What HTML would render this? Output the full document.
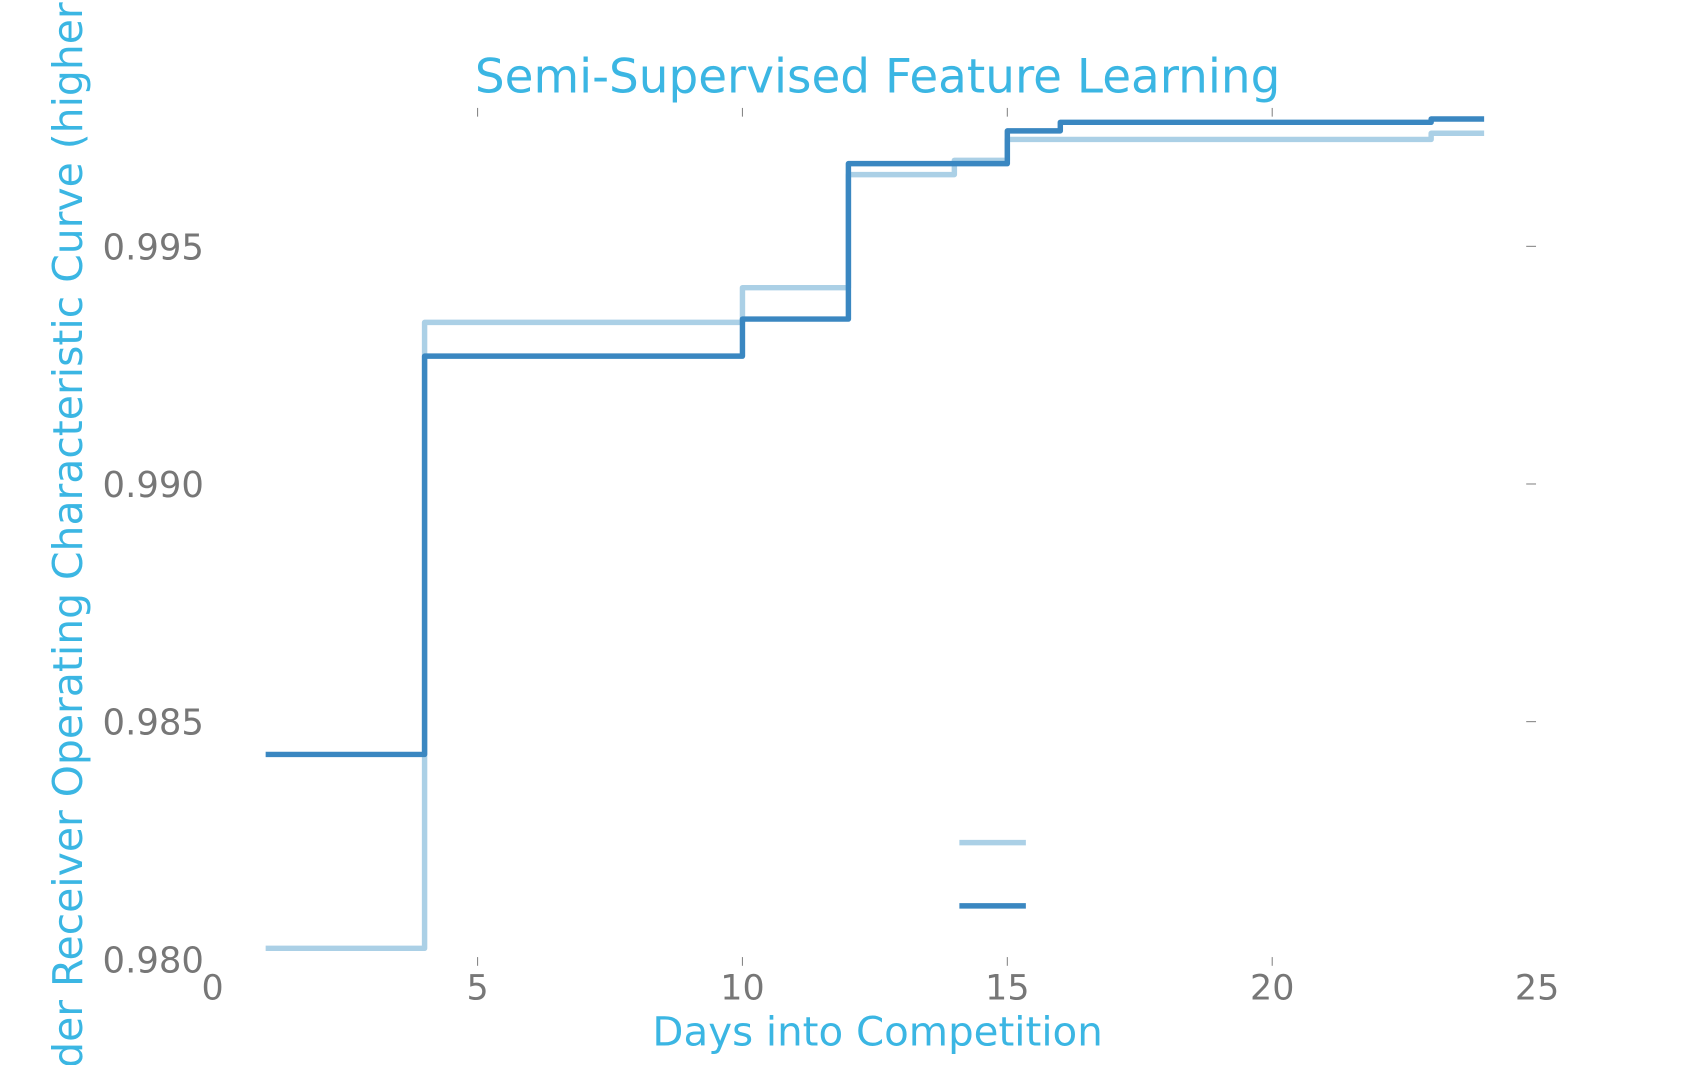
<!DOCTYPE html>
<html><head><meta charset="utf-8"><style>
html,body{margin:0;padding:0;background:#fff;overflow:hidden;width:1704px;height:1065px}
svg{display:block;font-family:"DejaVu Sans","Liberation Sans",sans-serif}
</style></head><body>
<svg id="chart" width="1704" height="1065" viewBox="0 0 1563 977" xmlns="http://www.w3.org/2000/svg" overflow="hidden">
<text x="805" y="85" text-anchor="middle" font-size="43" fill="#3bb6e3">Semi-Supervised Feature Learning</text>
<text x="805" y="959" text-anchor="middle" font-size="37" fill="#3bb6e3">Days into Competition</text>
<text transform="translate(75,474) rotate(-90)" text-anchor="middle" font-size="37.5" fill="#3bb6e3">Area Under Receiver Operating Characteristic Curve (higher is better)</text>
<g id="axes"></g>
<g id="series"></g>
<g>
<line x1="880" x2="941" y1="773" y2="773" stroke="#abd0e6" stroke-width="5"/>
<line x1="880" x2="941" y1="831" y2="831" stroke="#3a87c1" stroke-width="5"/>
</g>
</svg>
<script>
const xTicks = [0, 5, 10, 15, 20, 25];
const yTicks = [0.980, 0.985, 0.990, 0.995];
const yTickLabels = ["0.980", "0.985", "0.990", "0.995"];
const lightDays = [1, 4, 10, 12, 14, 15, 23, 24];
const lightVals = [0.98023, 0.99340, 0.99413, 0.99651, 0.99681, 0.99725, 0.99738, 0.99738];
const darkDays = [1, 4, 10, 12, 15, 16, 23, 24];
const darkVals = [0.98431, 0.99269, 0.99347, 0.99674, 0.99743, 0.99761, 0.99768, 0.99768];

const NS = "http://www.w3.org/2000/svg";
function xs(d){ return 195 + d * 48.6; }
function ys(v){ return 880 - (v - 0.980) / 0.005 * 218.0; }
const axes = document.getElementById('axes');
function mk(tag, attrs, parent){ const e = document.createElementNS(NS, tag); for (const k in attrs) e.setAttribute(k, attrs[k]); parent.appendChild(e); return e; }

xTicks.forEach(function(t){
  const x = xs(t);
  const lab = mk('text', {x: x, y: 917, 'text-anchor': 'middle', 'font-size': 32, fill: '#777'}, axes);
  lab.textContent = String(t);
  
  
  if (t > 0 && t < 25) {
    const tk = mk('line', {x1: x, x2: x, y1: 99, y2: 107, stroke: '#888', 'stroke-width': 1}, axes);
    
    
    const tb = mk('line', {x1: x, x2: x, y1: 878, y2: 886, stroke: '#888', 'stroke-width': 1}, axes);
    
    
  }
});
yTicks.forEach(function(v, i){
  const y = ys(v);
  const lab = mk('text', {x: 187, y: y + 12, 'text-anchor': 'end', 'font-size': 32.5, fill: '#777'}, axes);
  lab.textContent = yTickLabels[i];
  
  
  if (i > 0) {
    const tk = mk('line', {x1: 1400, x2: 1409, y1: y, y2: y, stroke: '#888', 'stroke-width': 1}, axes);
    
    
  }
});

const series = document.getElementById('series');
function stepPath(days, vals){
  let d = 'M' + xs(days[0]) + ',' + ys(vals[0]);
  for (let i = 1; i < days.length; i++) {
    d += ' H' + xs(days[i]) + ' V' + ys(vals[i]);
  }
  return d;
}
const pl = mk('path', {d: stepPath(lightDays, lightVals), fill: 'none', stroke: '#abd0e6', 'stroke-width': 5, 'stroke-linejoin': 'round'}, series);


const pd = mk('path', {d: stepPath(darkDays, darkVals), fill: 'none', stroke: '#3a87c1', 'stroke-width': 5, 'stroke-linejoin': 'round'}, series);


</script>
</body></html>
